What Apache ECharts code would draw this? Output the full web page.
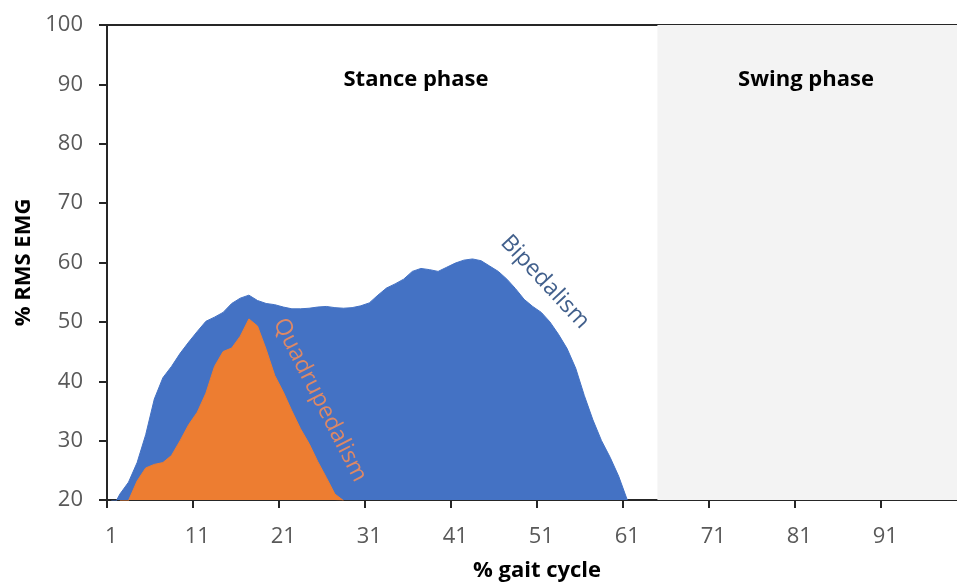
<!DOCTYPE html>
<html><head><meta charset="utf-8">
<script src="https://cdn.jsdelivr.net/npm/echarts@6/dist/echarts.min.js"></script>
<style>html,body{margin:0;padding:0;background:#fff;overflow:hidden}#c{width:957px;height:584px}</style>
</head><body><div id="c"></div>
<script>
// % gait cycle categories
const categories = ['1','2','3','4','5','6','7','8','9','10','11','12','13','14','15','16','17','18','19','20',
'21','22','23','24','25','26','27','28','29','30','31','32','33','34','35','36','37','38','39','40',
'41','42','43','44','45','46','47','48','49','50','51','52','53','54','55','56','57','58','59','60',
'61','62','63','64','65','66','67','68','69','70','71','72','73','74','75','76','77','78','79','80',
'81','82','83','84','85','86','87','88','89','90','91','92','93','94','95','96','97','98','99','100'];

// % RMS EMG, Bipedalism (categories 1..61)
const bipedalism = [18.3,21.0,23.0,26.3,31.0,37.0,40.6,42.5,44.7,46.6,
48.4,50.1,50.8,51.6,53.1,54.0,54.5,53.6,53.1,52.9,
52.5,52.2,52.2,52.3,52.5,52.6,52.4,52.3,52.4,52.7,
53.2,54.5,55.7,56.4,57.2,58.5,59.0,58.8,58.5,59.2,
59.9,60.4,60.6,60.3,59.4,58.5,57.2,55.6,53.8,52.6,
51.6,50.0,47.9,45.5,42.2,37.6,33.5,30.0,27.2,24.0,
20.0];

// % RMS EMG, Quadrupedalism (categories 1..28)
const quadrupedalism = [null,16.5,19.9,23.2,25.4,26.0,26.3,27.5,30.0,32.7,
34.8,38.0,42.5,45.0,45.6,47.6,50.5,49.3,45.4,41.0,
38.2,35.0,32.0,29.5,26.5,23.8,21.0,19.9];

// phase boundaries in % of gait cycle
const stanceEnd = 64;
const cycleEnd = 100;
const phaseNames = ['Stance phase', 'Swing phase'];

const FONT = 'Open Sans';
const chart = echarts.init(document.getElementById('c'), null, {renderer: 'canvas'});
chart.setOption({
  animation: false,
  backgroundColor: '#ffffff',
  grid: {left: 107, top: 25, width: 860, height: 475, containLabel: false, outerBoundsMode: 'none'},
  xAxis: [{
    type: 'category',
    data: categories,
    boundaryGap: true,
    position: 'bottom',
    axisLine: {lineStyle: {color: '#262626', width: 2}},
    axisTick: {show: true, interval: 9, length: 8, alignWithLabel: false, lineStyle: {color: '#262626', width: 2}},
    axisLabel: {interval: 9, color: '#595959', fontSize: 22, fontFamily: FONT, margin: 26},
    splitLine: {show: false},
    name: '% gait cycle',
    nameLocation: 'middle',
    nameGap: 60,
    nameTextStyle: {fontWeight: 'bold', fontSize: 22, color: '#000', fontFamily: FONT}
  }, {
    type: 'value',
    min: 0, max: cycleEnd,
    position: 'top',
    axisLine: {show: true, onZero: false, lineStyle: {color: '#262626', width: 2}},
    axisTick: {show: false},
    axisLabel: {show: false},
    splitLine: {show: false}
  }],
  yAxis: {
    type: 'value',
    min: 20, max: 100, interval: 10,
    axisLine: {show: true, lineStyle: {color: '#262626', width: 2}},
    axisTick: {show: true, length: 8, lineStyle: {color: '#262626', width: 2}},
    axisLabel: {color: '#595959', fontSize: 22, fontFamily: FONT, margin: 24},
    splitLine: {show: false},
    name: '% RMS EMG',
    nameLocation: 'middle',
    nameGap: 72,
    nameTextStyle: {fontWeight: 'bold', fontSize: 22, color: '#000', fontFamily: FONT}
  },
  series: [{
    name: 'phases',
    type: 'line',
    xAxisIndex: 1,
    data: [],
    silent: true,
    z: 0,
    markArea: {
      silent: true,
      itemStyle: {color: '#f3f3f3'},
      label: {show: false},
      data: [[{xAxis: stanceEnd}, {xAxis: cycleEnd}]]
    }
  }, {
    name: 'Bipedalism',
    type: 'line',
    data: bipedalism,
    symbol: 'none',
    z: 2,
    lineStyle: {color: '#4472C4', width: 1},
    areaStyle: {color: '#4472C4', opacity: 1}
  }, {
    name: 'Quadrupedalism',
    type: 'line',
    data: quadrupedalism,
    symbol: 'none',
    z: 3,
    lineStyle: {color: '#ED7D31', width: 1},
    areaStyle: {color: '#ED7D31', opacity: 1}
  }],
  graphic: [
    {type: 'text', x: 416, y: 80, z: 10, style: {text: phaseNames[0], fontFamily: FONT, fontWeight: 'bold', fontSize: 22, fill: '#000', align: 'center', verticalAlign: 'middle'}},
    {type: 'text', x: 806, y: 80, z: 10, style: {text: phaseNames[1], fontFamily: FONT, fontWeight: 'bold', fontSize: 22, fill: '#000', align: 'center', verticalAlign: 'middle'}},
    {type: 'text', x: 545, y: 282, z: 10, rotation: -47 * Math.PI / 180, style: {text: 'Bipedalism', fontFamily: FONT, fontSize: 23, fill: '#42608C', align: 'center', verticalAlign: 'middle'}},
    {type: 'text', x: 320, y: 400, z: 10, rotation: -63 * Math.PI / 180, style: {text: 'Quadrupedalism', fontFamily: FONT, fontSize: 23, fill: '#DD8866', align: 'center', verticalAlign: 'middle'}}
  ]
});
</script>
</body></html>
